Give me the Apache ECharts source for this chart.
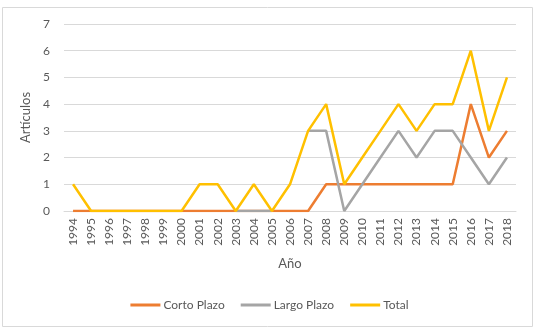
<!DOCTYPE html>
<html>
<head>
<meta charset="utf-8">
<script src="https://cdn.jsdelivr.net/npm/echarts@6/dist/echarts.min.js"></script>
<style>
  html, body { margin: 0; padding: 0; background: #fff; }
  #chart { width: 539px; height: 331px; }
</style>
</head>
<body>
<div id="chart"></div>
<script>
const years = ['1994', '1995', '1996', '1997', '1998', '1999', '2000', '2001', '2002', '2003', '2004', '2005', '2006',
  '2007', '2008', '2009', '2010', '2011', '2012', '2013', '2014', '2015', '2016', '2017', '2018']
const cortoPlazo = [0, 0, 0, 0, 0, 0, 0, 0, 0, 0, 0, 0, 0, 0, 1, 1, 1, 1, 1, 1, 1, 1, 4, 2, 3]
// gaps where the grey line is not drawn in the source
const largoPlazo = [null, null, null, null, null, null, null, null, null, 0, 0, 0, null, 3, 3, 0, 1, 2, 3, 2, 3, 3, 2, 1, 2]
const total = [1, 0, 0, 0, 0, 0, 0, 1, 1, 0, 1, 0, 1, 3, 4, 1, 2, 3, 4, 3, 4, 4, 6, 3, 5]

const textColor = '#595959'
const fontName = 'Lato'

const chart = echarts.init(document.getElementById('chart'))

const lineSeries = (name, data, color) => ({
  name: name,
  type: 'line',
  data: data,
  symbol: 'none',
  lineStyle: { width: 2.5, color: color },
  itemStyle: { color: color }
})

chart.setOption({
  animation: false,
  textStyle: { fontFamily: fontName },
  graphic: [
    {
      type: 'rect',
      shape: { x: 2.5, y: 7.5, width: 530, height: 319 },
      style: { fill: 'none', stroke: '#d9d9d9', lineWidth: 1 }
    }
  ],
  grid: { left: 64, right: 23, top: 24, bottom: 120 },
  legend: {
    bottom: 15,
    left: 'center',
    icon: 'rect',
    itemWidth: 30,
    itemHeight: 3,
    itemGap: 16,
    textStyle: { color: textColor, fontSize: 12, fontFamily: fontName, padding: [0, 0, 0, -2] },
    data: ['Corto Plazo', 'Largo Plazo', 'Total']
  },
  xAxis: {
    type: 'category',
    data: years,
    boundaryGap: true,
    name: 'Año',
    nameLocation: 'middle',
    nameGap: 46,
    nameTextStyle: { color: textColor, fontSize: 13, fontFamily: fontName },
    axisLine: { lineStyle: { color: '#d9d9d9' } },
    axisTick: { show: false },
    axisLabel: { rotate: 90, color: textColor, fontSize: 12, margin: 7, interval: 0 }
  },
  yAxis: {
    type: 'value',
    min: 0,
    max: 7,
    interval: 1,
    name: 'Artículos',
    nameLocation: 'middle',
    nameGap: 25,
    nameTextStyle: { color: textColor, fontSize: 13, fontFamily: fontName },
    axisLine: { show: false },
    axisTick: { show: false },
    axisLabel: { color: textColor, fontSize: 12, margin: 14 },
    splitLine: { lineStyle: { color: '#d9d9d9' } }
  },
  series: [
    lineSeries('Corto Plazo', cortoPlazo, '#ed7d31'),
    lineSeries('Largo Plazo', largoPlazo, '#a5a5a5'),
    lineSeries('Total', total, '#ffc000')
  ]
})
</script>
</body>
</html>
